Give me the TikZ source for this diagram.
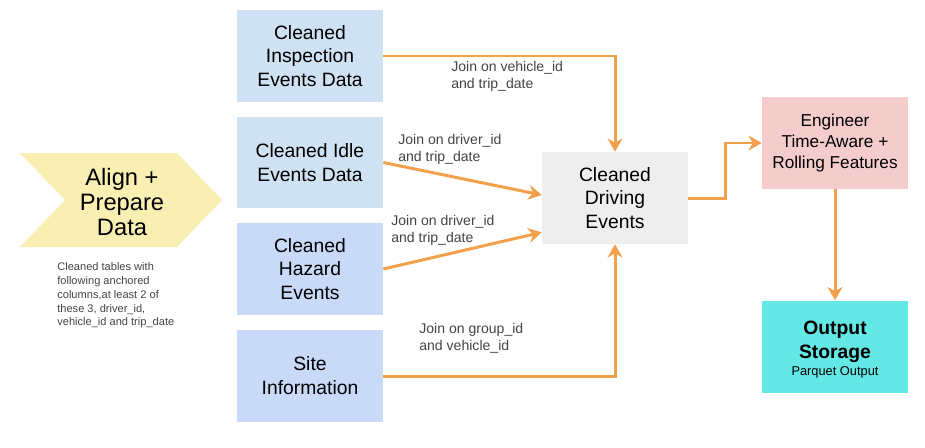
\documentclass[tikz,border=0pt]{standalone}
\usepackage{fontspec}
\setmainfont{Liberation Sans}
\usetikzlibrary{arrows.meta,positioning,calc}
\definecolor{inspblue}{HTML}{CFE2F3}
\definecolor{hazblue}{HTML}{C9DAF8}
\definecolor{drivegray}{HTML}{EEEEEE}
\definecolor{engpink}{HTML}{F4CCCC}
\definecolor{outcyan}{HTML}{63E8E5}
\definecolor{prepyellow}{HTML}{FAEFB2}
\definecolor{joinorange}{HTML}{F2A04A}
\definecolor{lblgray}{HTML}{444444}
\begin{document}
\begin{tikzpicture}[x=0.02cm, y=-0.02cm,
		every node/.style={align=center, inner sep=0pt},
		srcbox/.style={minimum width=2.92cm, minimum height=1.84cm, font=\fontsize{11}{13.6}\selectfont},
		flow/.style={draw=joinorange, line width=1.7pt, -{Stealth[length=7.5pt,width=8.5pt]}},
		joinlbl/.style={anchor=north west, align=left, text=lblgray, font=\fontsize{8}{9.6}\selectfont}]
		
		\useasboundingbox (0,0) rectangle (925,447);
		
		% prepare step
		\fill[prepyellow] (20,153) -- (177,153) -- (222,200) -- (177,247) -- (20,247) -- (65,200) -- cycle;
		\node[font=\fontsize{13.5}{14}\selectfont] (prep) at (122,202) {Align +\\Prepare\\Data};
		\node[anchor=north west, align=left, text=lblgray, font=\fontsize{6.3}{7.9}\selectfont] (prepnote) at (57,262)
		{Cleaned tables with\\following anchored\\columns,at least 2 of\\these 3, driver\_id,\\vehicle\_id and trip\_date};
		
		% sources
		\node[srcbox, fill=inspblue] (insp) at (310,56) {Cleaned\\Inspection\\Events Data};
		\node[srcbox, fill=inspblue] (idle) at (310,162.5) {Cleaned Idle\\Events Data};
		\node[srcbox, fill=hazblue] (haz) at (310,269) {Cleaned\\Hazard\\Events};
		\node[srcbox, fill=hazblue] (site) at (310,376) {Site\\Information};
		
		\node[srcbox, fill=drivegray] (drive) at (615,198) {Cleaned\\Driving\\Events};
		\node[srcbox, fill=engpink, font=\fontsize{9.8}{12}\selectfont] (eng) at (835,143) {Engineer\\Time-Aware +\\Rolling Features};
		\node[srcbox, fill=outcyan, font=\fontsize{11}{13.5}\selectfont\bfseries] (out) at (835,346.5)
		{\rule{0pt}{11pt}Output\\Storage\\[-4pt]{\fontsize{7.3}{9}\selectfont\mdseries Parquet Output}};
		
		% joins
		\draw[flow] (insp.east) -| (drive.north);
		\draw[flow] (idle.east) -- ([yshift=0.06cm]drive.west);
		\draw[flow] (haz.east) -- ([yshift=0.24cm]drive.south west);
		\draw[flow] (site.east) -| (drive.south);
		\draw[flow] (drive.east) -- ++(37,0) |- (eng.west);
		\draw[flow] (eng.south) -- (out.north);
		
		\node[joinlbl] (lblinsp) at (451,61) {Join on vehicle\_id\\and trip\_date};
		\node[joinlbl] (lblidle) at (398,134) {Join on driver\_id\\and trip\_date};
		\node[joinlbl] (lblhaz) at (391,215) {Join on driver\_id\\and trip\_date};
		\node[joinlbl] (lblsite) at (419,323) {Join on group\_id\\and vehicle\_id};
\end{tikzpicture}
\end{document}
